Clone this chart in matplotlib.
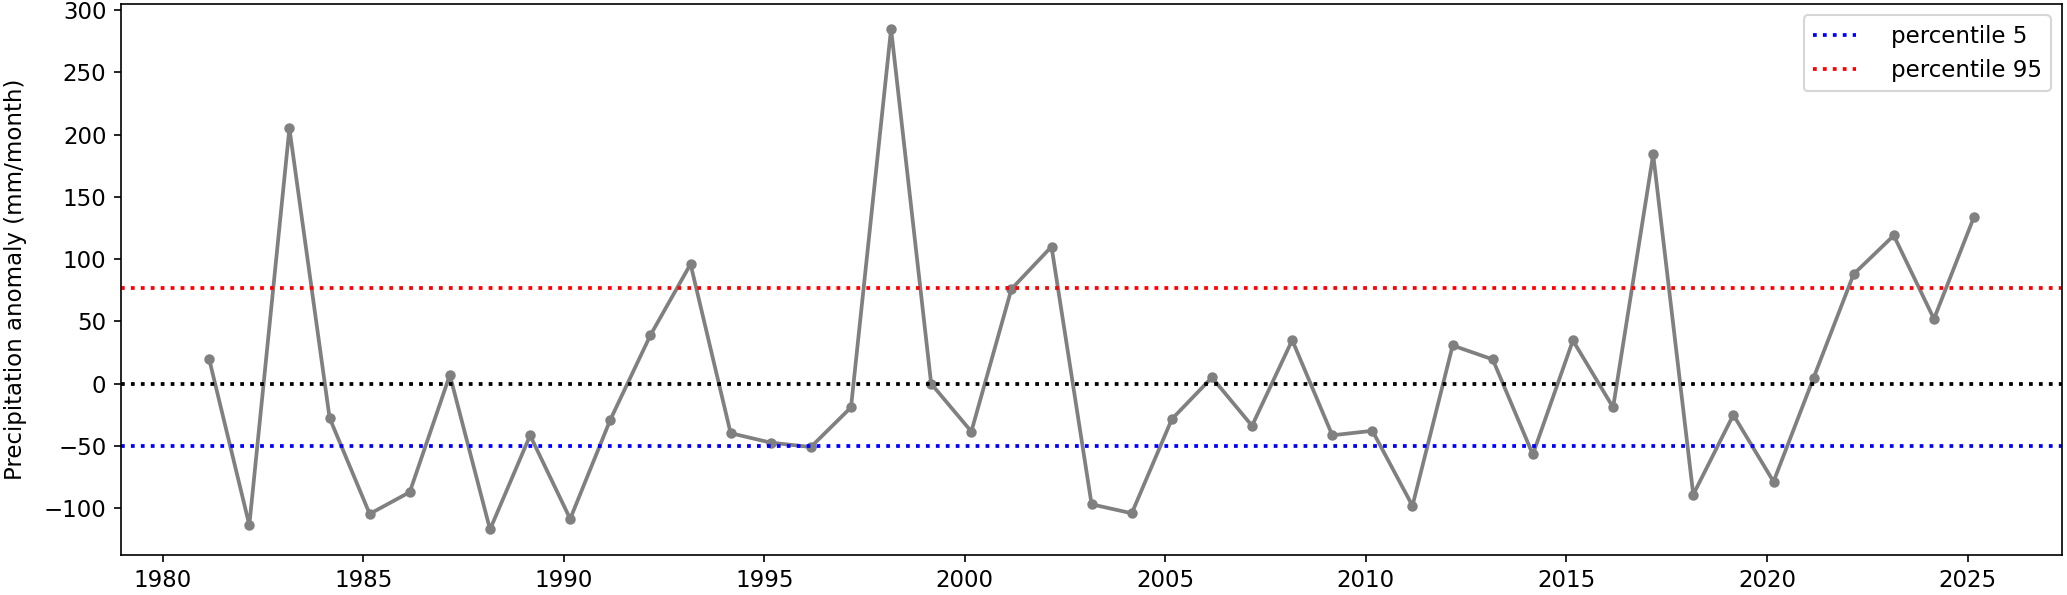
import matplotlib
matplotlib.use("Agg")
import matplotlib.pyplot as plt
import matplotlib.dates as mdates
import pandas as pd

years = list(range(1981, 2026))
anomaly = [19.5, -113.5, 205, -27.5, -104.5, -87, 7, -117, -41.5, -108.5,
           -29, 39, 96, -39.7, -47.3, -50.8, -19, 284.7, 0, -38.4,
           76, 110, -96.8, -104, -28.4, 5, -33.8, 35, -41.4, -37.8,
           -98, 30.7, 19.5, -56.8, 34.7, -19, 184, -89, -25, -78.6,
           4.8, 88, 119, 52, 134]
p5 = -50.0
p95 = 76.5
ylabel = "Precipitation anomaly (mm/month)"
legend_labels = ["percentile 5", "percentile 95"]

plt.rcParams["font.size"] = 11

dates = pd.to_datetime([f"{y}-03-01" for y in years])

fig = plt.figure(figsize=(2067/150, 595/150), dpi=150)
ax = fig.add_axes([121/2067, 1-554.5/595, (2062.3-121)/2067, (554.5-4)/595])

ax.plot(dates, anomaly, color="gray", lw=1.8, marker="o", markersize=4)
ax.axhline(0, color="black", ls=":", lw=1.8)
ax.axhline(p5, color="blue", ls=":", lw=1.8, label=legend_labels[0])
ax.axhline(p95, color="red", ls=":", lw=1.8, label=legend_labels[1])

ax.xaxis.set_major_locator(mdates.YearLocator(5))
ax.xaxis.set_major_formatter(mdates.DateFormatter("%Y"))
ax.set_ylabel(ylabel)
ax.yaxis.set_label_coords(-0.0485, 0.5)
ax.legend(loc="upper right", handletextpad=1.5, handlelength=1.9)

fig.savefig("out.png", dpi=150)
